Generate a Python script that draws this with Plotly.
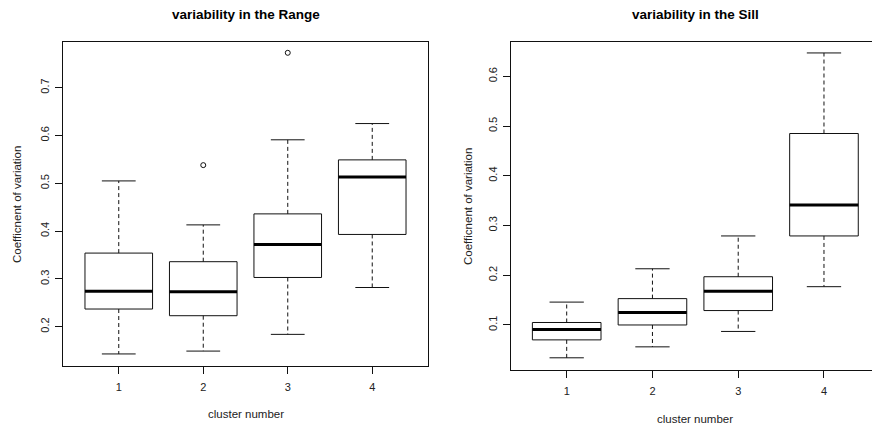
import plotly.graph_objects as go

# ---------------- data ----------------
clusters = [1, 2, 3, 4]
tick_labels = ["1", "2", "3", "4"]

range_lower = [0.143, 0.149, 0.184, 0.282]
range_q1 = [0.237, 0.223, 0.303, 0.393]
range_median = [0.274, 0.273, 0.372, 0.513]
range_q3 = [0.354, 0.336, 0.436, 0.549]
range_upper = [0.505, 0.413, 0.591, 0.625]
range_outlier_x = [2, 3]
range_outlier_y = [0.538, 0.773]

sill_lower = [0.034, 0.056, 0.087, 0.177]
sill_q1 = [0.070, 0.100, 0.129, 0.279]
sill_median = [0.091, 0.125, 0.168, 0.341]
sill_q3 = [0.105, 0.153, 0.197, 0.485]
sill_upper = [0.146, 0.213, 0.279, 0.647]
sill_outlier_x = []
sill_outlier_y = []

range_yticks = [0.2, 0.3, 0.4, 0.5, 0.6, 0.7]
sill_yticks = [0.1, 0.2, 0.3, 0.4, 0.5, 0.6]

# ---------------- styling ----------------
BOX_HALF = 0.4
CAP_HALF = 0.2
INK = "#111111"
FONT = "Liberation Sans, Arial, sans-serif"

fig = go.Figure()


def add_panel(xa, ya, lower, q1, med, q3, upper, ox, oy):
    for i, c in enumerate(clusters):
        common = dict(xaxis=xa, yaxis=ya, mode="lines", showlegend=False,
                      hoverinfo="skip")
        # box
        fig.add_trace(go.Scatter(
            x=[c - BOX_HALF, c + BOX_HALF, c + BOX_HALF, c - BOX_HALF, c - BOX_HALF],
            y=[q1[i], q1[i], q3[i], q3[i], q1[i]],
            line=dict(color=INK, width=1), **common))
        # whiskers (dashed)
        fig.add_trace(go.Scatter(
            x=[c, c, None, c, c],
            y=[q3[i], upper[i], None, q1[i], lower[i]],
            line=dict(color=INK, width=1, dash="4px,3px"), **common))
        # caps
        fig.add_trace(go.Scatter(
            x=[c - CAP_HALF, c + CAP_HALF, None, c - CAP_HALF, c + CAP_HALF],
            y=[upper[i], upper[i], None, lower[i], lower[i]],
            line=dict(color=INK, width=1), **common))
        # median
        fig.add_trace(go.Scatter(
            x=[c - BOX_HALF, c + BOX_HALF],
            y=[med[i], med[i]],
            line=dict(color="black", width=3), **common))
    if ox:
        fig.add_trace(go.Scatter(
            x=ox, y=oy, xaxis=xa, yaxis=ya, mode="markers", showlegend=False,
            hoverinfo="skip",
            marker=dict(symbol="circle-open", size=5, color=INK,
                        line=dict(width=1, color=INK))))


add_panel("x", "y", range_lower, range_q1, range_median, range_q3, range_upper,
          range_outlier_x, range_outlier_y)
add_panel("x2", "y2", sill_lower, sill_q1, sill_median, sill_q3, sill_upper,
          sill_outlier_x, sill_outlier_y)

W, H = 872, 425

axis_common = dict(showgrid=False, zeroline=False, showline=True,
                   linecolor=INK, linewidth=1, ticks="outside", ticklen=7,
                   tickcolor=INK, tickwidth=1,
                   tickfont=dict(family=FONT, size=11, color="#222222"))

fig.update_layout(
    width=W, height=H,
    margin=dict(l=0, r=0, t=0, b=0),
    paper_bgcolor="white", plot_bgcolor="white",
    font=dict(family=FONT, color="#222222"),
    xaxis=dict(domain=[63 / W, 428 / W], range=[0.34, 4.66],
               tickvals=clusters, ticktext=tick_labels, mirror=True,
               anchor="y", ticklabelstandoff=4, **axis_common),
    yaxis=dict(domain=[(H - 366) / H, (H - 42) / H], range=[0.1178, 0.7956],
               tickvals=range_yticks, tickangle=-90, mirror=True,
               anchor="x", ticklabelstandoff=2, **axis_common),
    xaxis2=dict(domain=[511 / W, 1.0], range=[0.3506, 4.56],
                tickvals=clusters, ticktext=tick_labels, mirror=True,
                anchor="y2", ticklabelstandoff=4, **axis_common),
    yaxis2=dict(domain=[(H - 370) / H, (H - 42) / H], range=[0.00946, 0.669],
                tickvals=sill_yticks, tickangle=-90, mirror=False,
                anchor="x2", ticklabelstandoff=2, **axis_common),
)

ann = []


def add_ann(text, px, py, size, color, angle=0):
    ann.append(dict(text=text, x=px / W, y=1 - py / H, xref="paper", yref="paper",
                    xanchor="center", yanchor="middle", showarrow=False,
                    textangle=angle, font=dict(family=FONT, size=size, color=color)))


# titles
add_ann("<b>variability in the Range</b>", 245.5, 15, 13.5, "black")
add_ann("<b>variability in the Sill</b>", 695, 15, 13.5, "black")
# x titles
add_ann("cluster number", 245.5, 414, 11.5, "#222222")
add_ann("cluster number", 695, 419, 11.5, "#222222")
# y titles
add_ann("Coefficnent of variation", 17, 205, 11.5, "#222222", -90)
add_ann("Coefficnent of variation", 468, 207, 11.5, "#222222", -90)
fig.update_layout(annotations=ann)

fig.write_html("out.html")
